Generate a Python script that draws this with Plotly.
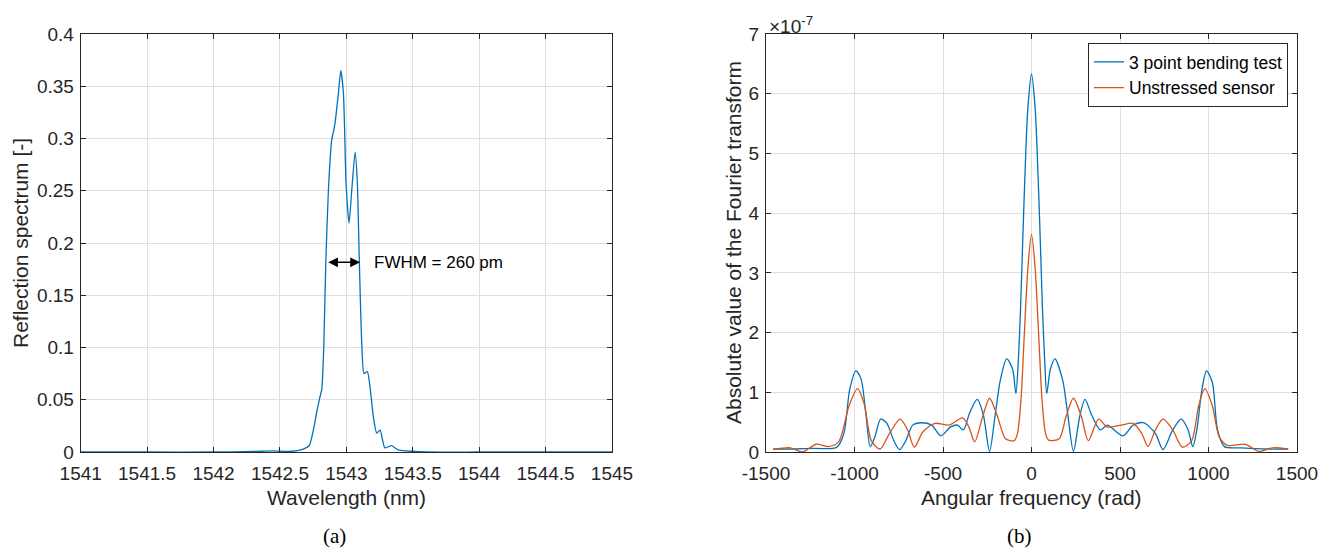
import plotly.graph_objects as go

# ---------------- data: (a) reflection spectrum ----------------
wavelength_nm = [1541.0, 1541.5, 1542.0, 1542.3, 1542.45, 1542.55, 1542.62, 1542.68,
                 1542.72, 1542.75, 1542.78, 1542.80, 1542.815, 1542.83, 1542.845,
                 1542.865, 1542.89, 1542.9, 1542.915, 1542.94, 1542.958, 1542.978,
                 1542.998, 1543.02, 1543.041, 1543.066, 1543.083, 1543.098, 1543.116,
                 1543.133, 1543.158, 1543.178, 1543.203, 1543.229, 1543.254, 1543.29,
                 1543.34, 1543.39, 1543.45, 1543.6, 1544.0, 1544.5, 1545.0]
reflection = [0.0, 0.0, 0.0, 0.0005, 0.001, 0.0005, 0.001, 0.003,
              0.006, 0.02, 0.04, 0.052, 0.06, 0.1, 0.18,
              0.251, 0.299, 0.305, 0.315, 0.343, 0.365, 0.343,
              0.257, 0.219, 0.251, 0.287, 0.257, 0.181, 0.104,
              0.075, 0.077, 0.0625, 0.034, 0.018, 0.021, 0.004,
              0.006, 0.002, 0.001, 0.0, 0.0, 0.0, 0.0]

fwhm_left = 1542.852
fwhm_right = 1543.103
fwhm_level = 0.1815
fwhm_text = "FWHM = 260 pm"

wl_ticks = [1541, 1541.5, 1542, 1542.5, 1543, 1543.5, 1544, 1544.5, 1545]
wl_ticktext = ["1541", "1541.5", "1542", "1542.5", "1543", "1543.5", "1544", "1544.5", "1545"]
refl_ticks = [0, 0.05, 0.1, 0.15, 0.2, 0.25, 0.3, 0.35, 0.4]
refl_ticktext = ["0", "0.05", "0.1", "0.15", "0.2", "0.25", "0.3", "0.35", "0.4"]

# ---------------- data: (b) Fourier transform (units of 1e-7) ----------------
bend_freq = [-1460, -1343, -1226, -1100, -1060, -1027, -992, -963, -934, -911, -885, -852,
             -817, -778, -745, -710, -671, -623, -564, -512, -457, -418, -385, -350, -307,
             -272, -237, -204, -175, -140, -107, -88, -75, -62, -50, -35, -20, 0,
             20, 35, 50, 62, 75, 86, 107, 132, 175, 204, 237, 272, 302, 340, 389, 428,
             516, 574, 632, 700, 743, 798, 846, 885, 911, 934, 963, 989, 1022, 1051, 1090,
             1187, 1323, 1450]
bend_amp = [0.05, 0.05, 0.06, 0.08, 0.31, 1.05, 1.36, 1.22, 0.59, 0.09, 0.25, 0.55,
            0.48, 0.19, 0.04, 0.19, 0.45, 0.49, 0.45, 0.27, 0.42, 0.45, 0.37, 0.65, 0.88,
            0.62, 0.01, 0.65, 1.22, 1.56, 1.39, 0.98, 1.5, 2.4, 3.5, 4.8, 5.78, 6.33,
            5.78, 4.8, 3.5, 2.4, 1.5, 0.98, 1.39, 1.56, 1.22, 0.65, 0.01, 0.59, 0.88, 0.62,
            0.37, 0.45, 0.27, 0.45, 0.49, 0.31, 0.04, 0.37, 0.55, 0.37, 0.09, 0.37, 1.05,
            1.36, 1.16, 0.37, 0.09, 0.07, 0.05, 0.05]

free_freq = [-1460, -1362, -1294, -1216, -1148, -1090, -1031, -983, -944, -905, -856, -808,
             -743, -700, -662, -613, -545, -467, -389, -354, -321, -276, -237, -195, -146,
             -97, -80, -60, -40, -20, 0, 20, 40, 60, 80, 97, 156, 195, 237, 282, 321, 379,
             428, 506, 574, 623, 658, 700, 743, 798, 852, 905, 944, 979, 1022, 1061, 1109,
             1207, 1284, 1362, 1450]
free_amp = [0.04, 0.07, 0.0, 0.13, 0.09, 0.17, 0.77, 1.06, 0.79, 0.19, 0.05, 0.28,
            0.55, 0.37, 0.08, 0.34, 0.48, 0.45, 0.57, 0.42, 0.17, 0.59, 0.9, 0.62, 0.22,
            0.19, 0.3, 0.85, 2.0, 3.1, 3.645, 3.1, 2.0, 0.85, 0.3, 0.2, 0.22, 0.59, 0.9,
            0.59, 0.19, 0.55, 0.42, 0.45, 0.48, 0.31, 0.09, 0.37, 0.55, 0.37, 0.08, 0.19,
            0.77, 1.06, 0.77, 0.25, 0.11, 0.13, 0.01, 0.07, 0.05]

freq_ticks = [-1500, -1000, -500, 0, 500, 1000, 1500]
freq_ticktext = ["-1500", "-1000", "-500", "0", "500", "1000", "1500"]
amp_ticks = [0, 1, 2, 3, 4, 5, 6, 7]
series_names = ["3 point bending test", "Unstressed sensor"]

# ---------------- styling ----------------
BLUE = "#0072BD"
ORANGE = "#D95319"
AX = "#262626"
GRID = "#dfdfdf"
SANS = "Liberation Sans, Arial, sans-serif"
SERIF = "Liberation Serif, Times New Roman, serif"
OFF = 8                      # page body margin
W, H = 1327 - OFF, 550 - OFF

def px(x):
    return (x - OFF) / W

def py(y):
    return (H - (y - OFF)) / H

fig = go.Figure()
fig.add_trace(go.Scatter(x=wavelength_nm, y=reflection, mode="lines",
                         line=dict(color=BLUE, width=1.3, shape="spline", smoothing=0.6),
                         showlegend=False, xaxis="x", yaxis="y"))
fig.add_trace(go.Scatter(x=bend_freq, y=bend_amp, mode="lines", name=series_names[0],
                         line=dict(color=BLUE, width=1.3, shape="spline", smoothing=0.8),
                         xaxis="x2", yaxis="y2"))
fig.add_trace(go.Scatter(x=free_freq, y=free_amp, mode="lines", name=series_names[1],
                         line=dict(color=ORANGE, width=1.3, shape="spline", smoothing=0.8),
                         xaxis="x2", yaxis="y2"))

axis_common = dict(showline=True, linecolor=AX, linewidth=1, mirror="ticks",
                   ticks="inside", ticklen=5, tickcolor=AX, tickwidth=1,
                   showgrid=True, gridcolor=GRID, gridwidth=1, zeroline=False,
                   tickfont=dict(family=SANS, size=19, color=AX), automargin=False)

ydom = [py(452), py(34)]
fig.update_layout(
    width=W, height=H, margin=dict(l=0, r=0, t=0, b=0),
    paper_bgcolor="white", plot_bgcolor="white",
    xaxis=dict(domain=[px(80.7), px(612)], range=[1541, 1545], tickvals=wl_ticks,
               ticktext=wl_ticktext, anchor="y", ticklabelstandoff=4, **axis_common),
    yaxis=dict(domain=ydom, range=[0, 0.4], tickvals=refl_ticks, ticktext=refl_ticktext,
               anchor="x", ticklabelstandoff=2, **axis_common),
    xaxis2=dict(domain=[px(766), px(1297)], range=[-1500, 1500], tickvals=freq_ticks,
                ticktext=freq_ticktext, anchor="y2", ticklabelstandoff=4, **axis_common),
    yaxis2=dict(domain=ydom, range=[0, 7], tickvals=amp_ticks, anchor="x2",
                ticklabelstandoff=2, **axis_common),
    legend=dict(x=px(1288), y=py(43), xanchor="right", yanchor="top",
                bgcolor="white", bordercolor=AX, borderwidth=1,
                font=dict(family=SANS, size=17.5, color="black"),
                tracegroupgap=0),
    showlegend=True,
)

ann = []
# FWHM arrow
ann.append(dict(x=fwhm_right, y=fwhm_level, ax=fwhm_left, ay=fwhm_level, xref="x", yref="y",
                axref="x", ayref="y", text="", showarrow=True, arrowhead=2, startarrowhead=2,
                arrowside="end+start", arrowsize=1.3, startarrowsize=1.3, arrowwidth=1.5,
                arrowcolor="black"))
ann.append(dict(x=1543.19, y=fwhm_level, xref="x", yref="y", text=fwhm_text, showarrow=False,
                xanchor="left", yanchor="middle", font=dict(family=SANS, size=17, color="black")))
# axis titles
title_font = dict(family=SANS, size=21, color=AX)
ann.append(dict(x=px(346.3), y=py(497), xref="paper", yref="paper", text="Wavelength (nm)",
                showarrow=False, xanchor="center", yanchor="middle", font=title_font))
ann.append(dict(x=px(20), y=py(243), xref="paper", yref="paper", text="Reflection spectrum [-]",
                showarrow=False, xanchor="center", yanchor="middle", textangle=-90, font=title_font))
ann.append(dict(x=px(1031.5), y=py(497), xref="paper", yref="paper", text="Angular frequency (rad)",
                showarrow=False, xanchor="center", yanchor="middle", font=title_font))
ann.append(dict(x=px(733), y=py(243), xref="paper", yref="paper",
                text="Absolute value of the Fourier transform",
                showarrow=False, xanchor="center", yanchor="middle", textangle=-90, font=title_font))
# exponent label
ann.append(dict(x=px(767), y=py(25), xref="paper", yref="paper", text="×10<sup>-7</sup>",
                showarrow=False, xanchor="left", yanchor="middle",
                font=dict(family=SANS, size=19, color=AX)))
# panel labels
ann.append(dict(x=px(334), y=py(536), xref="paper", yref="paper", text="(a)", showarrow=False,
                xanchor="center", yanchor="middle", font=dict(family=SERIF, size=21, color="black")))
ann.append(dict(x=px(1019.5), y=py(536), xref="paper", yref="paper", text="(b)", showarrow=False,
                xanchor="center", yanchor="middle", font=dict(family=SERIF, size=21, color="black")))
fig.update_layout(annotations=ann)

fig.write_html("out.html")
